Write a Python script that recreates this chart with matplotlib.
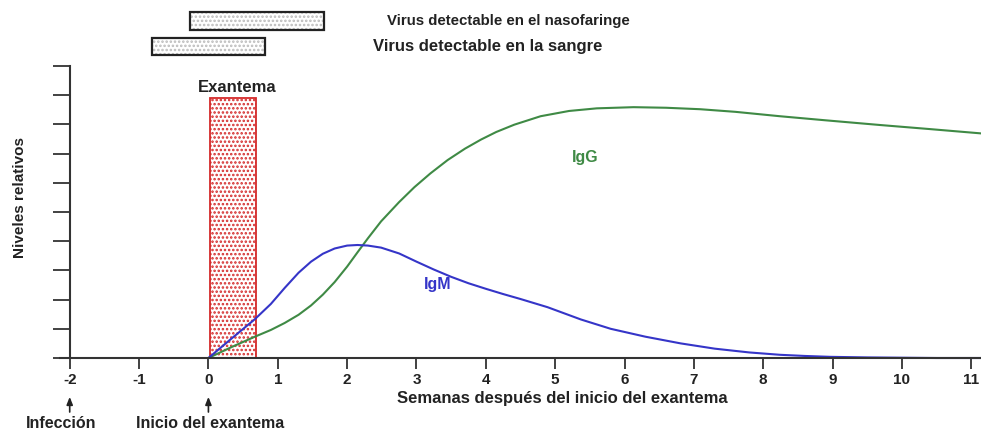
import matplotlib
matplotlib.use("Agg")
import matplotlib.pyplot as plt

plt.rcParams["font.family"] = ["Liberation Sans", "DejaVu Sans"]
plt.rcParams["font.weight"] = "bold"
plt.rcParams["hatch.linewidth"] = 1.2

# readings from the picture (weeks after rash onset, relative level 0-10)
igm_weeks = [0, 0.33, 0.67, 0.9, 1.1, 1.3, 1.48, 1.65, 1.82, 2.0, 2.15, 2.3, 2.49,
             2.75, 3.0, 3.25, 3.5, 3.75, 4.0, 4.25, 4.5, 4.89, 5.37, 5.8, 6.3,
             6.81, 7.3, 7.8, 8.24, 8.6, 8.96, 9.5, 10, 10.5, 11.2]
igm = [0, 0.66, 1.33, 1.85, 2.4, 2.92, 3.3, 3.57, 3.75, 3.85, 3.87, 3.85, 3.78,
       3.58, 3.3, 3.03, 2.78, 2.56, 2.37, 2.19, 2.02, 1.74, 1.32, 1.0, 0.73,
       0.5, 0.32, 0.19, 0.11, 0.07, 0.04, 0.02, 0.01, 0, 0]

igg_weeks = [0, 0.33, 0.67, 0.9, 1.1, 1.3, 1.48, 1.65, 1.82, 2.0, 2.15, 2.3, 2.49,
             2.75, 2.97, 3.2, 3.45, 3.7, 3.93, 4.15, 4.41, 4.79, 5.2, 5.6, 6.13,
             6.6, 7.09, 7.6, 8.24, 8.9, 9.68, 10.4, 11.2]
igg = [0, 0.37, 0.73, 0.96, 1.2, 1.48, 1.8, 2.17, 2.6, 3.13, 3.62, 4.1, 4.68,
       5.34, 5.85, 6.32, 6.78, 7.17, 7.48, 7.74, 7.99, 8.28, 8.46, 8.55, 8.59,
       8.57, 8.52, 8.43, 8.28, 8.14, 7.98, 7.84, 7.68]

# periods (start, end) in weeks
naso_period = (-0.26, 1.67)
sangre_period = (-0.81, 0.81)
exantema_period = (0.03, 0.68)
exantema_height = 8.9

x_ticks = list(range(-2, 12))
y_ticks = list(range(0, 11))

fig = plt.figure(figsize=(9.81, 4.32), dpi=100)
ax = fig.add_axes([60 / 981, 74 / 432, 921 / 981, 292 / 432])
ax.set_xlim(-2.14, 11.14)
ax.set_ylim(0, 10)

# exantema bar
ax.bar(exantema_period[0], exantema_height, width=exantema_period[1] - exantema_period[0],
       align="edge", color="white", edgecolor="#d42a2a", hatch="....", linewidth=1.3)
ax.text(sum(exantema_period) / 2 + 0.06, exantema_height + 0.12, "Exantema", ha="center",
        va="bottom", fontsize=12, color="#222222")

# virus boxes above the axes
for (a, b), yc, label, tx, fs in [(naso_period, 11.54, "Virus detectable en el nasofaringe", 2.58, 10.8),
                                  (sangre_period, 10.67, "Virus detectable en la sangre", 2.38, 12)]:
    ax.barh(yc, b - a, left=a, height=0.6, color="white", edgecolor="#bbbbbb",
            hatch="....", linewidth=0, clip_on=False)
    ax.barh(yc, b - a, left=a, height=0.6, color="none", edgecolor="#222222",
            linewidth=1.6, clip_on=False)
    ax.text(tx, yc, label, ha="left", va="center", fontsize=fs, color="#222222")

ax.plot(igg_weeks, igg, color="#3f8a45", linewidth=1.5, clip_on=False,
        solid_joinstyle="round")
ax.plot(igm_weeks, igm, color="#3535c8", linewidth=1.5, clip_on=False,
        solid_joinstyle="round")
ax.text(5.43, 6.85, "IgG", color="#3f8a45", fontsize=11.5, ha="center", va="center")
ax.text(3.31, 2.5, "IgM", color="#3535c8", fontsize=11.5, ha="center", va="center")

for s in ["top", "right"]:
    ax.spines[s].set_visible(False)
ax.spines["left"].set_position(("data", -2))
for s in ["left", "bottom"]:
    ax.spines[s].set_linewidth(1.5)
    ax.spines[s].set_color("#333333")

ax.set_yticks(y_ticks)
ax.set_yticklabels([])
ax.tick_params(axis="y", length=12, width=1.3, color="#333333")
ax.set_xticks(x_ticks)
ax.set_xticklabels([str(t) for t in x_ticks], fontsize=11, color="#222222")
ax.tick_params(axis="x", length=8, width=1.3, color="#333333", pad=3)

ax.set_ylabel("Niveles relativos", fontsize=11, fontweight="bold", color="#222222")
ax.yaxis.set_label_coords(-0.036, 0.55)
ax.text(5.1, -1.38, "Semanas después del inicio del exantema", ha="center", va="center",
        fontsize=12, color="#222222")

for xw, label, dx in [(-2, "Infección", -0.12), (0, "Inicio del exantema", 0.03)]:
    ax.annotate("", xy=(xw, -1.33), xytext=(xw, -1.85), annotation_clip=False,
                arrowprops=dict(arrowstyle="-|>,head_length=0.45,head_width=0.18",
                                color="#222222", lw=1.2, shrinkA=0, shrinkB=0))
    ax.text(xw + dx, -2.24, label, ha="center", va="center", fontsize=11.5, color="#222222")

fig.savefig("out.png", dpi=100)
